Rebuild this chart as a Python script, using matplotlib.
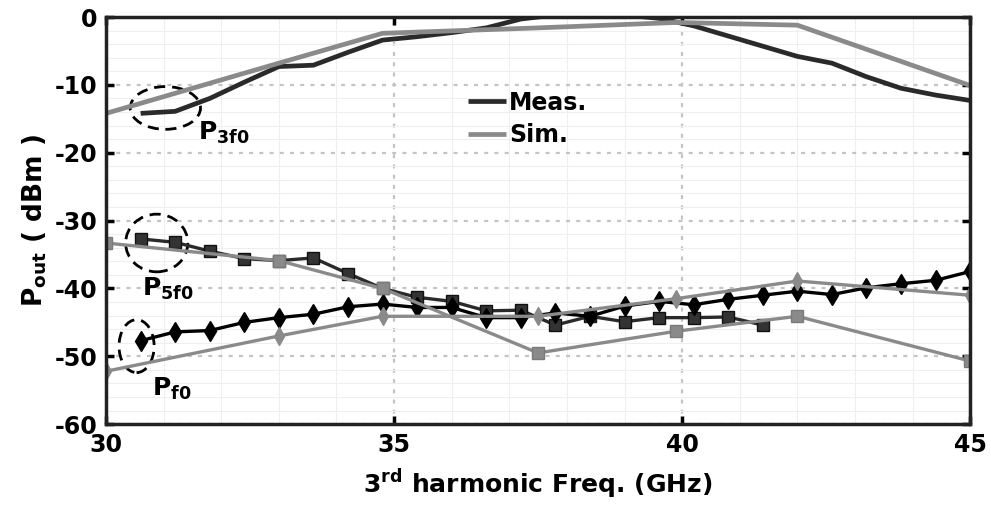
import matplotlib.pyplot as plt
import numpy as np
from matplotlib.patches import Ellipse

plt.rcParams['font.family'] = 'DejaVu Sans'
plt.rcParams['font.weight'] = 'bold'
plt.rcParams['mathtext.fontset'] = 'dejavusans'
plt.rcParams['axes.unicode_minus'] = False

# Frequências das medidas (GHz)
f_meas = [30.6, 31.2, 31.8, 32.4, 33.0, 33.6, 34.2, 34.8, 35.4, 36.0, 36.6, 37.2, 37.8,
          38.4, 39.0, 39.6, 40.2, 40.8, 41.4, 42.0, 42.6, 43.2, 43.8, 44.4, 45.0]
# Frequências da simulação (GHz)
f_sim = [30.0, 33.0, 34.8, 37.5, 39.9, 42.0, 45.0]

# P3f0 medido e simulado (dBm)
p3_meas = [-14.2, -13.9, -12.0, -9.6, -7.3, -7.1, -5.2, -3.4, -2.9, -2.3, -1.6, -0.3, 0.3,
           0.4, 0.3, -0.2, -1.3, -2.8, -4.3, -5.8, -6.8, -8.8, -10.5, -11.5, -12.3]
p3_sim = [-14.2, -6.8, -2.4, -1.6, -0.8, -1.2, -10.1]

# P5f0 medido (só até 41.4 GHz) e simulado (dBm)
p5_meas = [-32.7, -33.2, -34.5, -35.6, -35.9, -35.5, -37.8, -40.0, -41.3, -41.9, -43.3, -43.2,
           -45.4, -44.1, -44.9, -44.3, -44.3, -44.2, -45.4]
p5_sim = [-33.3, -35.9, -40.0, -49.5, -46.3, -44.1, -50.7]

# Pf0 medido e simulado (dBm)
p1_meas = [-47.7, -46.4, -46.2, -45.0, -44.3, -43.8, -42.7, -42.3, -42.8, -42.8, -44.3, -44.3,
           -43.6, -44.1, -42.6, -41.9, -42.4, -41.6, -41.0, -40.4, -40.9, -39.9, -39.3, -38.8, -37.5]
p1_sim = [-52.2, -47.0, -44.1, -44.1, -41.5, -38.9, -41.0]

dark = '#2a2a2a'
gray = '#8a8a8a'

fig = plt.figure(figsize=(9.91, 5.08), dpi=100)
ax = fig.add_axes([0.107, 0.165, 0.872, 0.8015])

# Medidas
ax.plot(f_meas, p3_meas, color=dark, lw=3.4, label='Meas.', solid_capstyle='butt')
ax.plot(f_meas[:len(p5_meas)], p5_meas, color=dark, lw=2.4, marker='s', ms=8,
        mfc='#333333', mec='#111111')
ax.plot(f_meas, p1_meas, color='black', lw=2.4, marker='d', ms=10, mfc='black', mec='black')

# Simulação
ax.plot(f_sim, p3_sim, color=gray, lw=3.4, label='Sim.', solid_capstyle='butt')
ax.plot(f_sim, p5_sim, color=gray, lw=2.4, marker='s', ms=8, mfc=gray, mec='#7a7a7a')
ax.plot(f_sim, p1_sim, color=gray, lw=2.4, marker='d', ms=9, mfc=gray, mec=gray)

# Elipses tracejadas e rótulos
for cx, cy, w, h in [(31.03, -13.4, 1.22, 6.3), (30.88, -33.3, 1.08, 8.5), (30.53, -48.5, 0.61, 7.8)]:
    ax.add_patch(Ellipse((cx, cy), w, h, fill=False, ec='black', lw=2,
                         ls=(0, (4, 2.5)), clip_on=False))
ax.text(31.6, -18.1, r'$\mathbf{P_{3f0}}$', fontsize=18, ha='left', va='baseline')
ax.text(30.62, -41.1, r'$\mathbf{P_{5f0}}$', fontsize=18, ha='left', va='baseline')
ax.text(30.79, -55.8, r'$\mathbf{P_{f0}}$', fontsize=18, ha='left', va='baseline')

ax.set_xlim(30, 45)
ax.set_ylim(-60, 0)
ax.set_xticks([30, 35, 40, 45])
ax.set_yticks(np.arange(-60, 1, 10))
ax.set_xticks(np.arange(30, 46, 1), minor=True)
ax.set_yticks(np.arange(-60, 1, 2), minor=True)
ax.tick_params(which='major', direction='in', length=6, width=2.5, labelsize=17,
               top=True, right=True, pad=6)
ax.tick_params(which='minor', length=0)
ax.grid(which='minor', color='#efefef', lw=0.8, ls='-')
ax.grid(which='major', color='#c4c4c4', lw=1.6, ls=(0, (1.8, 2.8)))
ax.set_axisbelow(True)
for s in ax.spines.values():
    s.set_linewidth(2.5)
    s.set_color('#222222')

ax.set_xlabel(r'3$^{\mathbf{rd}}$ harmonic Freq. (GHz)', fontsize=18, fontweight='bold',
              labelpad=8)
ax.set_ylabel(r'$\mathbf{P_{out}}$ ( dBm )', fontsize=19, fontweight='bold', labelpad=4)

ax.legend(loc='upper left', bbox_to_anchor=(0.405, 0.848), frameon=False, fontsize=17,
          handlelength=1.6, handletextpad=0.15, labelspacing=0.35, borderpad=0)

fig.savefig('out.png', dpi=100)
